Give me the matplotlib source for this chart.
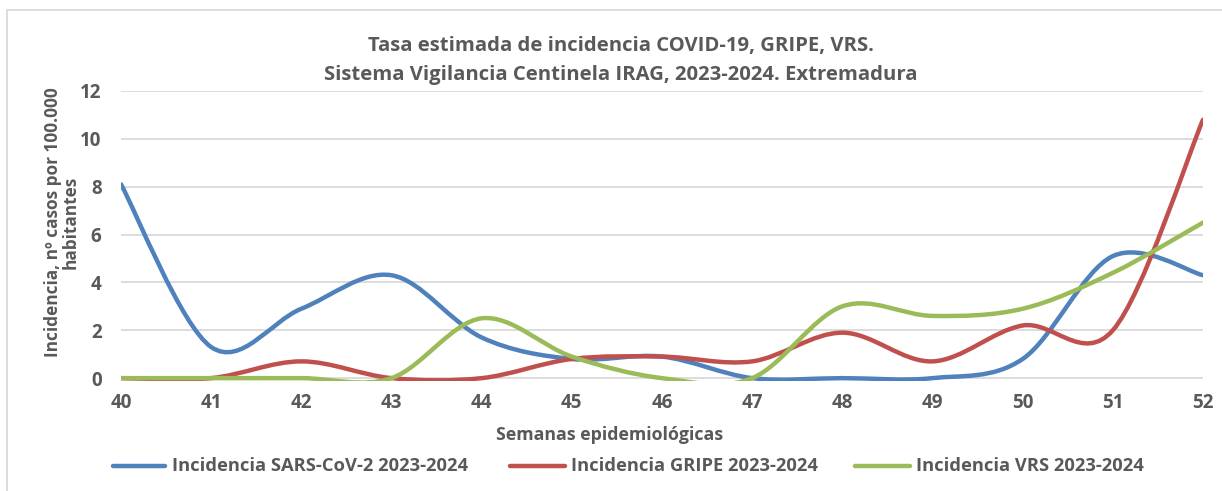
import numpy as np
import matplotlib
matplotlib.use("Agg")
import matplotlib.pyplot as plt
from matplotlib.path import Path
from matplotlib.patches import PathPatch, Rectangle
from matplotlib.lines import Line2D

plt.rcParams['font.family'] = ['Open Sans', 'DejaVu Sans']
plt.rcParams['font.weight'] = 'bold'

# weeks and incidence per 100.000
semanas = [40, 41, 42, 43, 44, 45, 46, 47, 48, 49, 50, 51, 52]
sars_cov2 = [8.1, 1.3, 2.9, 4.3, 1.7, 0.8, 0.9, 0.0, 0.0, 0.0, 0.8, 5.1, 4.3]
gripe = [0.0, 0.0, 0.7, 0.0, 0.0, 0.8, 0.9, 0.7, 1.9, 0.7, 2.2, 2.0, 10.8]
vrs = [0.0, 0.0, 0.0, 0.0, 2.5, 0.9, 0.0, 0.0, 3.0, 2.6, 2.9, 4.4, 6.5]

series = [
    ("Incidencia SARS-CoV-2 2023-2024", sars_cov2, "#4F81BD"),
    ("Incidencia GRIPE 2023-2024", gripe, "#C0504D"),
    ("Incidencia VRS 2023-2024", vrs, "#9BBB59"),
]

TXT = "#595959"


def smooth_path(x, y):
    # Excel-style smoothed line: cubic Bezier with 1/6 tangents
    pts = np.column_stack([x, y]).astype(float)
    n = len(pts)
    verts = [pts[0]]
    codes = [Path.MOVETO]
    for i in range(n - 1):
        p0 = pts[i - 1] if i > 0 else pts[i]
        p1 = pts[i]
        p2 = pts[i + 1]
        p3 = pts[i + 2] if i + 2 < n else pts[i + 1]
        c1 = p1 + (p2 - p0) / 6.0
        c2 = p2 - (p3 - p1) / 6.0
        verts += [c1, c2, p2]
        codes += [Path.CURVE4] * 3
    return Path(verts, codes)


fig = plt.figure(figsize=(12.22, 4.91), dpi=100)
ax = fig.add_axes([121 / 1222, 1 - 381 / 491, (1203 - 121) / 1222, (381 - 91) / 491])

for name, vals, col in series:
    patch = PathPatch(smooth_path(semanas, vals), facecolor="none", edgecolor=col,
                      lw=3.2, capstyle="round", joinstyle="round", zorder=3)
    ax.add_patch(patch)

ax.set_xlim(40, 52)
ax.set_ylim(-0.12, 12)
ax.set_xticks(semanas)
ax.set_yticks(range(0, 13, 2))
ax.tick_params(length=0, labelsize=13.5, labelcolor=TXT)
ax.tick_params(axis="x", pad=9)
ax.tick_params(axis="y", pad=14)
for lab in ax.get_xticklabels() + ax.get_yticklabels():
    lab.set_fontweight("bold")
for s in ax.spines.values():
    s.set_visible(False)
for yv in range(0, 13, 2):
    ax.axhline(yv, color="#D9D9D9", lw=1.3, zorder=1)

fig.text(621 / 1222, 1 - 46 / 491, "Tasa estimada de incidencia COVID-19, GRIPE, VRS.",
         ha="center", va="center", fontsize=14.6, fontweight="bold", color=TXT)
fig.text(621 / 1222, 1 - 75 / 491, "Sistema Vigilancia Centinela IRAG, 2023-2024. Extremadura",
         ha="center", va="center", fontsize=14.6, fontweight="bold", color=TXT)

fig.text(610 / 1222, 1 - 435 / 491, "Semanas epidemiológicas",
         ha="center", va="center", fontsize=12.8, fontweight="bold", color=TXT)
fig.text(62 / 1222, 1 - 222 / 491, "Incidencia, nº casos por 100.000\nhabitantes",
         ha="center", va="center", rotation=90, fontsize=12.4, fontweight="bold",
         color=TXT, linespacing=1.0)

# legend
leg_x = [(113, 165, 172), (510, 565, 571), (855, 910, 916)]
for (x0, x1, xt), (name, vals, col) in zip(leg_x, series):
    yy = 1 - 466 / 491
    fig.add_artist(Line2D([x0 / 1222, x1 / 1222], [yy, yy], color=col, lw=3.2,
                          solid_capstyle="round"))
    fig.text(xt / 1222, yy, name, ha="left", va="center", fontsize=13.2,
             fontweight="bold", color=TXT)

# outer border
fig.add_artist(Rectangle((7 / 1222, -0.1), 1.2, 1 - 10 / 491 + 0.1, transform=fig.transFigure,
                         fill=False, edgecolor="#D9D9D9", lw=1.3))

fig.savefig("out.png", dpi=100)
